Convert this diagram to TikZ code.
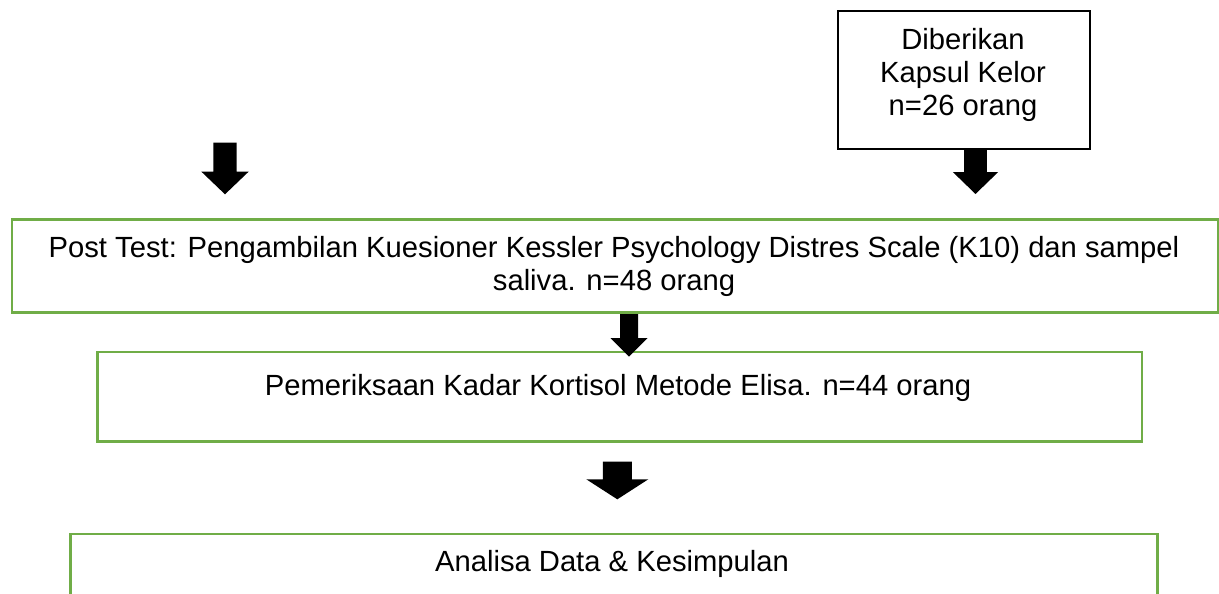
\documentclass[tikz,border=0pt]{standalone}
\usepackage{fontspec}
\setmainfont{Liberation Sans}
\definecolor{boxgreen}{HTML}{70AD47}
\newcommand\blockarrow[6]{%
  \fill[black] (#1-#5,#2) -- (#1+#5,#2) -- (#1+#5,#3) -- (#1+#6,#3) -- (#1,#4)
     -- (#1-#6,#3) -- (#1-#5,#3) -- cycle;}
\begin{document}
\begin{tikzpicture}[x=0.75pt,y=-0.75pt,
  gbox/.style={draw=boxgreen,line width=2pt,inner sep=0pt,anchor=north west,fill=none},
  kbox/.style={draw=black,line width=1.5pt,inner sep=0pt,anchor=north west},
  txt/.style={inner sep=0pt,font=\fontsize{21.9}{24.75}\selectfont,align=center}]
\useasboundingbox (0,0) rectangle (1219,593);
\clip (0,0) rectangle (1219,593);
% boxes
\node[kbox,minimum width=189.2pt,minimum height=103.5pt] (top) at (836.7,10) {};
\node[gbox,minimum width=905pt,minimum height=69.75pt] (post) at (10.7,218) {};
\node[gbox,minimum width=783.5pt,minimum height=67pt] (elisa) at (96,350.7) {};
\node[gbox,minimum width=815.25pt,minimum height=75pt] (anal) at (69,532.5) {};
% texts (base anchor = baseline of the last line)
\node[txt,anchor=base] (toptxt) at (963,115.7) {Diberikan\\Kapsul Kelor\\n=26 orang};
\node[txt,anchor=base] (posttxt) at (614,290) {Post Test: Pengambilan Kuesioner Kessler Psychology Distres Scale (K10) dan sampel\\saliva. n=48 orang};
\node[txt,anchor=base] (elisatxt) at (618,395) {Pemeriksaan Kadar Kortisol Metode Elisa. n=44 orang};
\node[txt,anchor=base] (analtxt) at (612,571.7) {Analisa Data \& Kesimpulan};
% block arrows
\blockarrow{225}{142.7}{171.7}{194.3}{11.7}{23.6}
\blockarrow{975.5}{148}{172}{194}{11.3}{22.7}
\blockarrow{629}{314}{338}{356.7}{9}{18.5}
\blockarrow{617.3}{461.7}{479.3}{499.3}{14.5}{31}
\end{tikzpicture}
\end{document}
